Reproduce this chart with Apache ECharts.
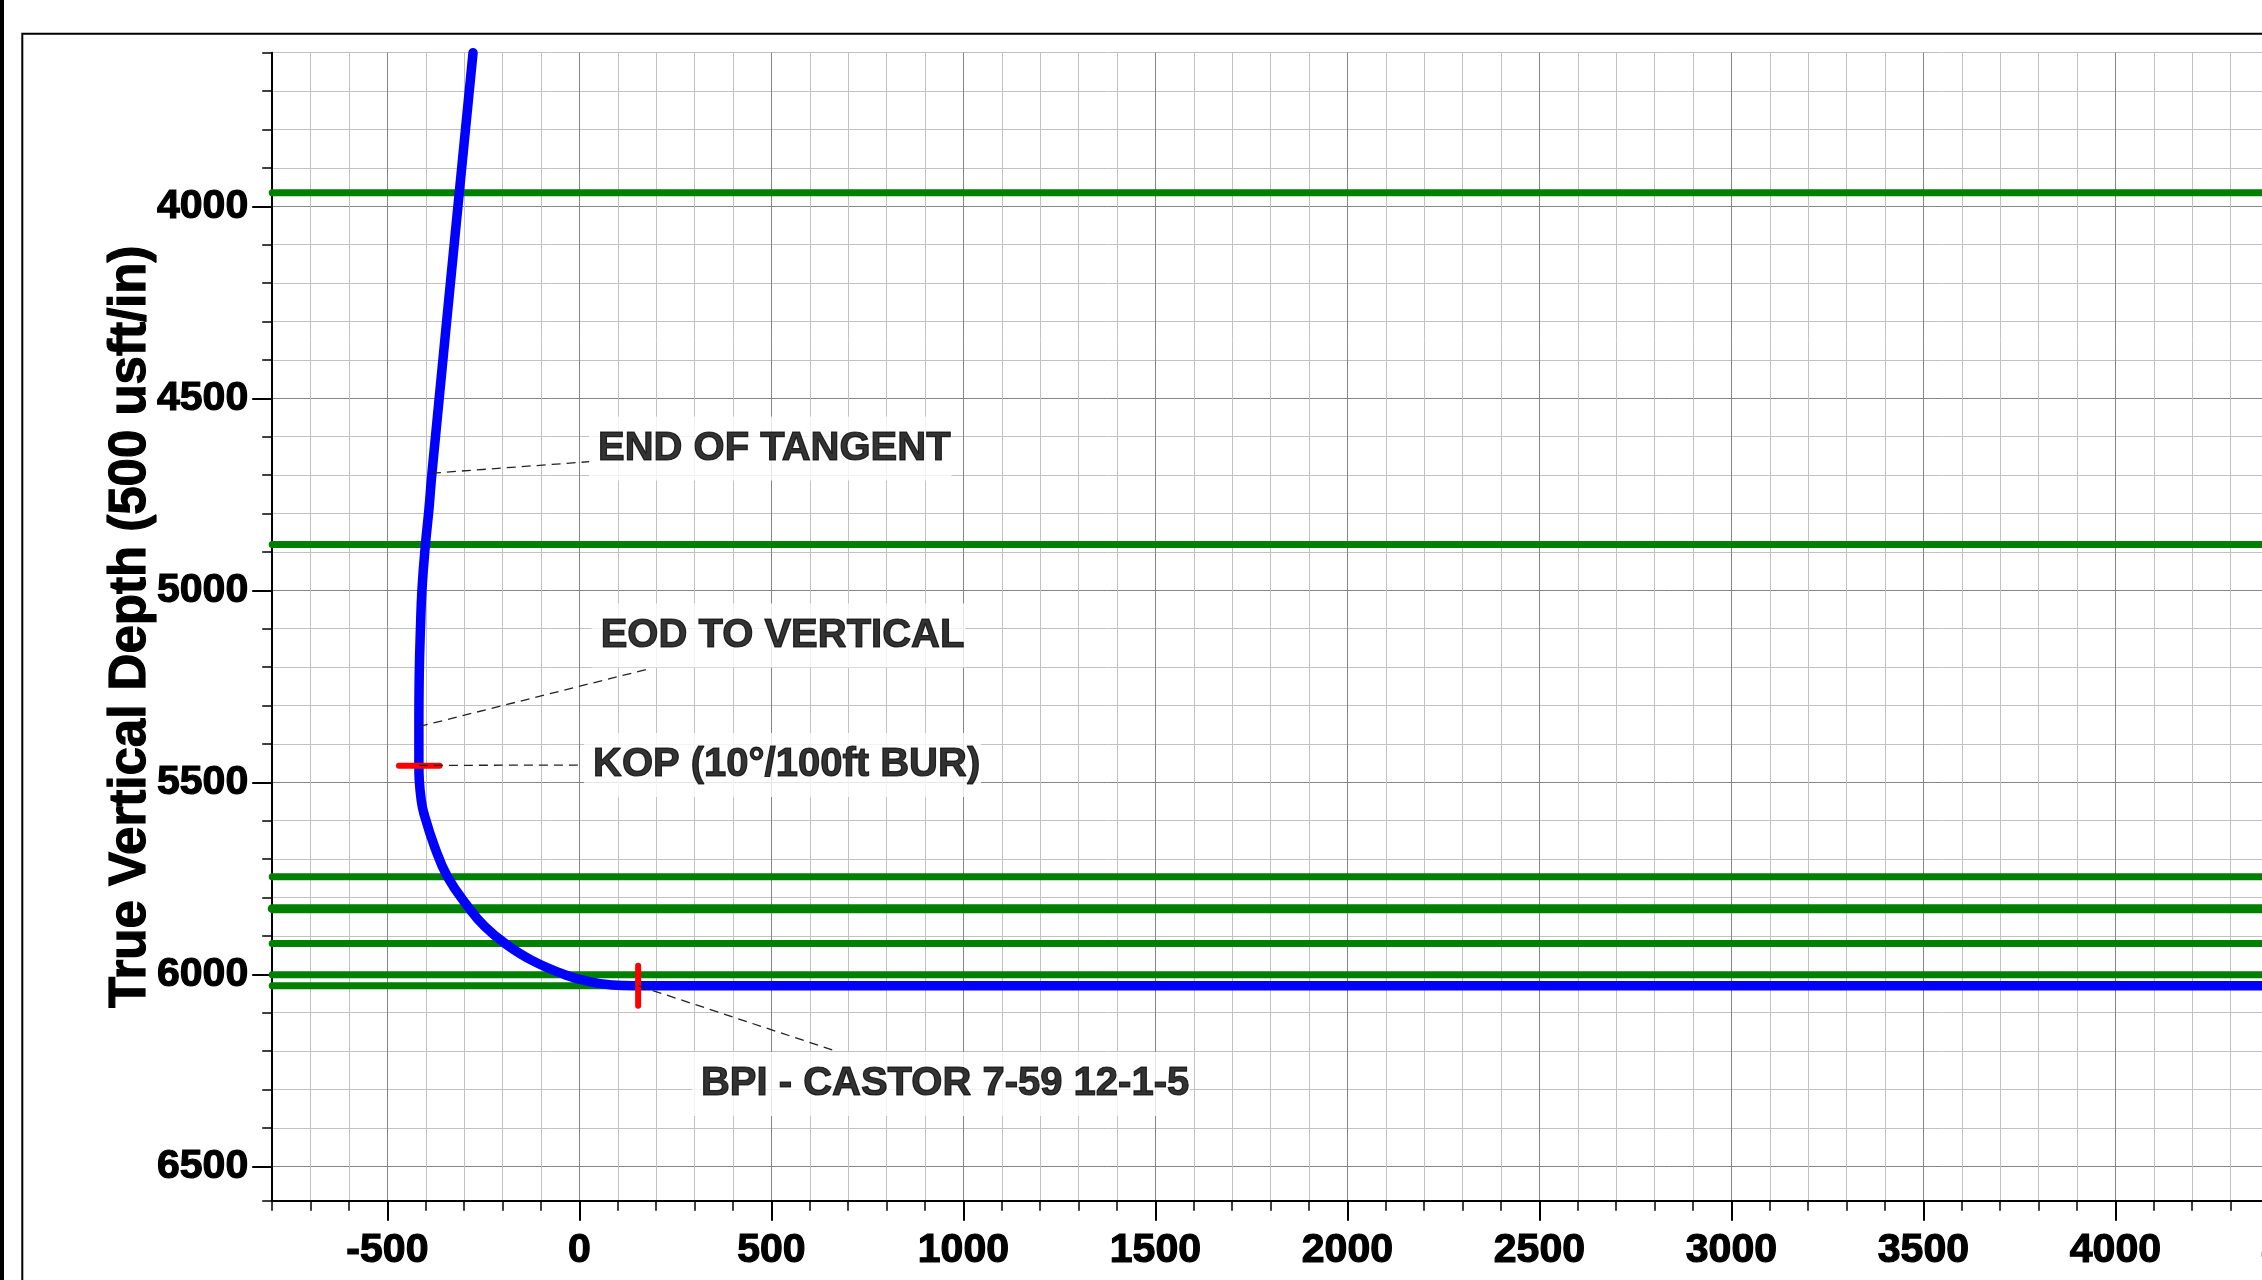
<!DOCTYPE html>
<html>
<head>
<meta charset="utf-8">
<script src="https://cdn.jsdelivr.net/npm/echarts@6/dist/echarts.min.js"></script>
<style>
html,body{margin:0;padding:0;overflow:hidden;background:#fff}
#chart{width:2600px;height:1280px}
</style>
</head>
<body>
<div id="chart"></div>
<script>
// ---- Data (usft) ----
// Well path: vertical section (x) and true vertical depth (y)
const wellVS  = [-277, -313, -384, -392, -401, -410, -414, -417, -418, -418, -417, -412, -405, -377, -343, -287, -246, -192, -125, -38, 25, 85, 141, 5000];
const wellTVD = [3600, 3966, 4695, 4791, 4881, 4999, 5103, 5216, 5356, 5457, 5494, 5546, 5581, 5668, 5747, 5828, 5876, 5921, 5963, 6001, 6019, 6028, 6030, 6030];

// Formation tops (TVD)
const formationTops = [3965, 4881, 5746, 5829, 5920, 6001, 6030];

// Axis tick labels
const xTickLabels = [-500, 0, 500, 1000, 1500, 2000, 2500, 3000, 3500, 4000, 4500, 5000];
const yTickLabels = [4000, 4500, 5000, 5500, 6000, 6500];

// Annotations
const annotationNames = ['END OF TANGENT', 'EOD TO VERTICAL', 'KOP (10°/100ft BUR)', 'BPI - CASTOR 7-59 12-1-5'];
const annotationPointVS  = [-384, -418, -418, 154];
const annotationPointTVD = [4695, 5355, 5456, 6030];
const leaderEndVS  = [27, 187, 3, 668];
const leaderEndTVD = [4665, 5203, 5455, 6200];
const labelVS  = [25, 32, 12, 293];
const labelTVD = [4631, 5118, 5455, 6286];

// Red markers (KOP and target)
const kopMarkerVS  = [-470, -364];
const kopMarkerTVD = [5457, 5457];
const targetMarkerVS  = [153, 153];
const targetMarkerTVD = [5978, 6082];

// ---- Styles ----
const FONT = "'Liberation Sans', Arial, sans-serif";
const X_MIN = -800, X_MAX = 5000, Y_MIN = 3600, Y_MAX = 6590;
const MINOR = '#c2c2c2', MAJOR = '#858585';
const formationWidths = [7, 7, 7, 9, 7, 7, 7];
const TEXT_STYLE = { color: '#000', fontWeight: 'bold', fontFamily: FONT, textBorderColor: '#000', textBorderWidth: 1.2 };

const pairs = (xs, ys) => xs.map((x, i) => [x, ys[i]]);
const fmt = v => String(v);

const series = [];
formationTops.forEach((d, i) => {
  series.push({
    type: 'line', name: 'Formation ' + (i + 1), xAxisIndex: 0, yAxisIndex: 0,
    data: [[X_MIN, d], [X_MAX, d]], showSymbol: false, silent: true, z: 3,
    lineStyle: { color: '#008000', width: formationWidths[i], cap: 'round' }
  });
});
series.push({
  type: 'line', name: 'Well path', xAxisIndex: 0, yAxisIndex: 0,
  data: pairs(wellVS, wellTVD), showSymbol: false, silent: true, z: 4, clip: false,
  smooth: 0.45,
  lineStyle: { color: '#0000ff', width: 9.5, cap: 'round', join: 'round' }
});
series.push({
  type: 'line', name: 'KOP marker', data: pairs(kopMarkerVS, kopMarkerTVD),
  showSymbol: false, silent: true, z: 5, clip: false,
  lineStyle: { color: '#ff0000', width: 6, cap: 'round' }
});
series.push({
  type: 'line', name: 'Target marker', data: pairs(targetMarkerVS, targetMarkerTVD),
  showSymbol: false, silent: true, z: 5, clip: false,
  lineStyle: { color: '#ff0000', width: 6, cap: 'round' }
});
annotationNames.forEach((n, i) => {
  series.push({
    type: 'line', name: 'Leader ' + (i + 1),
    data: [[annotationPointVS[i], annotationPointTVD[i]], [leaderEndVS[i], leaderEndTVD[i]]],
    showSymbol: false, silent: true, z: 6,
    lineStyle: { color: '#222', width: 1.3, type: [9, 6] }
  });
});
series.push({
  type: 'scatter', name: 'Labels', symbolSize: 0, silent: true, z: 8,
  data: annotationNames.map((n, i) => ({ name: n, value: [labelVS[i], labelTVD[i]] })),
  label: Object.assign({
    show: true, position: 'right', distance: 0, formatter: '{b}',
    fontSize: 40, lineHeight: 40,
    backgroundColor: '#fff', padding: [15, 1, 9, 9]
  }, TEXT_STYLE)
});

const baseAxis = (min, max) => ({
  type: 'value', min: min, max: max, interval: 100, gridIndex: 0
});

const option = {
  animation: false,
  backgroundColor: '#fff',
  grid: { left: 272.2, top: 52.7, width: (X_MAX - X_MIN) * 0.384, height: (Y_MAX - Y_MIN) * 0.384, containLabel: false },
  xAxis: [
    Object.assign(baseAxis(X_MIN, X_MAX), {
      position: 'bottom', offset: 0,
      axisLine: { show: true, onZero: false, lineStyle: { color: '#000', width: 2 } },
      axisTick: { show: true, length: 10, lineStyle: { color: '#000', width: 1.5 } },
      axisLabel: { show: false },
      splitLine: { show: true, lineStyle: { color: [MINOR, MINOR, MINOR, MAJOR, MINOR], width: 1 } }
    }),
    Object.assign(baseAxis(X_MIN, X_MAX), {
      position: 'bottom', offset: 0,
      axisLine: { show: false, onZero: false },
      axisTick: { show: true, length: 20, customValues: xTickLabels, lineStyle: { color: '#000', width: 2 } },
      axisLabel: Object.assign({ show: true, customValues: xTickLabels, formatter: v => (v % 500 === 0 ? fmt(v) : ''),
        margin: 29, fontSize: 41 }, TEXT_STYLE),
      splitLine: { show: false }
    })
  ],
  yAxis: [
    Object.assign(baseAxis(Y_MIN, Y_MAX), {
      position: 'left', inverse: true, offset: 0,
      name: 'True Vertical Depth (500 usft/in)', nameLocation: 'middle', nameRotate: 90, nameGap: 116,
      nameTextStyle: Object.assign({ fontSize: 51 }, TEXT_STYLE),
      axisLine: { show: true, onZero: false, lineStyle: { color: '#000', width: 2 } },
      axisTick: { show: true, length: 10, lineStyle: { color: '#000', width: 1.5 } },
      axisLabel: { show: false },
      splitLine: { show: true, lineStyle: { color: [MINOR, MINOR, MINOR, MINOR, MAJOR], width: 1 } }
    }),
    Object.assign(baseAxis(Y_MIN, Y_MAX), {
      position: 'left', inverse: true, offset: 0,
      axisLine: { show: false, onZero: false },
      axisTick: { show: true, length: 20, customValues: yTickLabels, lineStyle: { color: '#000', width: 2 } },
      axisLabel: Object.assign({ show: true, customValues: yTickLabels, formatter: v => (v % 500 === 0 ? fmt(v) : ''),
        margin: 24, fontSize: 41, padding: [6, 0, 0, 0] }, TEXT_STYLE),
      splitLine: { show: false }
    })
  ],
  graphic: [
    { type: 'rect', shape: { x: 0, y: 0, width: 4, height: 1280 }, style: { fill: '#000' }, silent: true },
    { type: 'rect', shape: { x: 22.3, y: 33.7, width: 3000, height: 3000 }, style: { fill: null, stroke: '#000', lineWidth: 2 }, silent: true, z: -1 }
  ],
  series: series
};

const chart = echarts.init(document.getElementById('chart'), null, { renderer: 'canvas' });
chart.setOption(option);
</script>
</body>
</html>
